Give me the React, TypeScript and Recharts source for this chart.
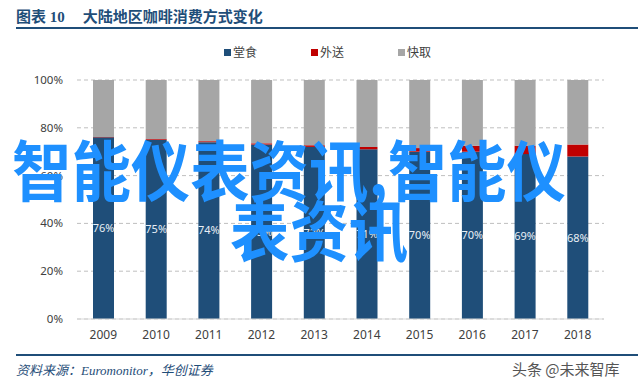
import React from "react";
import { BarChart, Bar, XAxis, YAxis, CartesianGrid, LabelList } from "recharts";

const years = ["2009", "2010", "2011", "2012", "2013", "2014", "2015", "2016", "2017", "2018"];
const dineIn = [76, 75, 74, 73, 72, 71, 70, 70, 69, 68];
const delivery = [0.2, 0.3, 0.4, 0.5, 0.7, 1, 1.5, 2.5, 3.5, 5];
const takeaway = [23.8, 24.7, 25.6, 26.5, 27.3, 28, 28.5, 27.5, 27.5, 27];
const yTicks = [0, 20, 40, 60, 80, 100];

const seriesNames = ["堂食", "外送", "快取"];
const colors = ["#1F4E79", "#C00000", "#A6A6A6"];

const font = "'Noto Sans', 'Noto Sans CJK SC', sans-serif";

export default function App() {
    // 组装图表数据
    const data = years.map((y, i) => ({ year: y, dine: dineIn[i], delivery: delivery[i], takeaway: takeaway[i] }));
    return (
        <div style={{ position: "absolute", left: 0, top: 0, width: 640, height: 385, background: "#fff", overflow: "hidden", fontFamily: font }}>
            <div style={{ position: "absolute", left: 16, top: 5, fontSize: 15, fontWeight: 700, color: "#1F4E79", fontFamily: "'Liberation Serif', 'Noto Sans CJK SC', serif", whiteSpace: "nowrap" }}>
                图表 10<span style={{ marginLeft: 18 }}>大陆地区咖啡消费方式变化</span>
            </div>
            <div style={{ position: "absolute", left: 16, top: 27, width: 622, height: 2, background: "#1F4E79" }} />
            <div style={{ position: "absolute", left: 224, top: 43, display: "flex", fontSize: 12, color: "#404040" }}>
                {seriesNames.map((n, i) => (
                    <div key={n} style={{ display: "flex", alignItems: "center", width: 87 }}>
                        <span style={{ display: "inline-block", width: 7, height: 7, background: colors[i], marginRight: 2 }} />
                        {n}
                    </div>
                ))}
            </div>
            <BarChart width={640} height={385} data={data} margin={{ top: 80, right: 36, bottom: 36, left: 7 }}>
                <CartesianGrid vertical={false} strokeDasharray="4 3" stroke="#BFBFBF" />
                <XAxis dataKey="year" height={30} tickLine={false} axisLine={{ stroke: "#D9D9D9" }} tickMargin={5} tick={{ fontSize: 12, fill: "#404040", fontFamily: font }} />
                <YAxis width={70} domain={[0, 100]} ticks={yTicks} tickFormatter={(v) => `${v}%`} axisLine={false} tickLine={false} tickMargin={8} tick={{ fontSize: 11.5, fill: "#404040", fontFamily: font }} />
                <Bar dataKey="dine" stackId="a" fill={colors[0]} barSize={21} isAnimationActive={false}>
                    <LabelList dataKey="dine" position="center" formatter={(v: any) => `${v}%`} fill="#E8EEF5" fontSize={11} fontFamily={font} />
                </Bar>
                <Bar dataKey="delivery" stackId="a" fill={colors[1]} barSize={21} isAnimationActive={false} />
                <Bar dataKey="takeaway" stackId="a" fill={colors[2]} barSize={21} isAnimationActive={false} />
            </BarChart>
            <div style={{ position: "absolute", left: 16, top: 354, width: 622, height: 2, background: "#1F4E79" }} />
            <div style={{ position: "absolute", left: 16, top: 360, fontSize: 13, fontStyle: "italic", color: "#1F4E79", fontFamily: "'Liberation Serif', 'Noto Sans CJK SC', serif", whiteSpace: "nowrap" }}>
                资料来源：Euromonitor，华创证券
            </div>
            <div style={{ position: "absolute", left: 512, top: 358, fontSize: 15, color: "#555", whiteSpace: "nowrap", fontFamily: "'Noto Sans CJK SC', sans-serif" }}>
                头条 @未来智库
            </div>
            <div style={{ position: "absolute", left: 12, top: 134, fontSize: 66, lineHeight: "66px", fontWeight: 700, color: "#1E90FF", whiteSpace: "nowrap", transform: "scaleX(0.9)", transformOrigin: "left top", fontFamily: "'Noto Sans CJK SC', sans-serif" }}>
                智能仪表资讯,智能仪
            </div>
            <div style={{ position: "absolute", left: 230, top: 194, fontSize: 66, lineHeight: "66px", fontWeight: 700, color: "#1E90FF", whiteSpace: "nowrap", transform: "scaleX(0.9)", transformOrigin: "left top", fontFamily: "'Noto Sans CJK SC', sans-serif" }}>
                表资讯
            </div>
        </div>
    );
}
